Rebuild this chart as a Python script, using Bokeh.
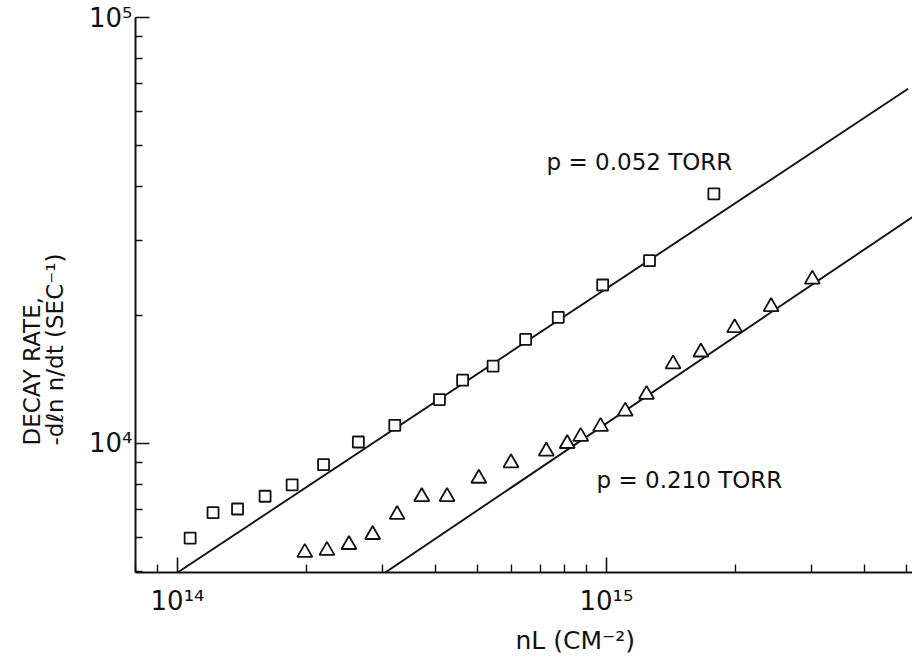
from bokeh.plotting import figure
from bokeh.models import FixedTicker, Label, Range1d, Title
from bokeh.embed import file_html
from bokeh.resources import INLINE

# ---- data ----
sq_nl = [1.07e14, 1.21e14, 1.38e14, 1.60e14, 1.85e14, 2.19e14, 2.64e14, 3.21e14,
         4.08e14, 4.62e14, 5.44e14, 6.48e14, 7.72e14, 9.80e14, 1.26e15, 1.78e15]
sq_rate = [5990, 6870, 7010, 7510, 7990, 8910, 10070, 11020,
           12670, 14070, 15180, 17540, 19760, 23540, 26850, 38540]

tri_nl = [1.98e14, 2.23e14, 2.51e14, 2.85e14, 3.25e14, 3.71e14, 4.25e14, 5.04e14,
          5.99e14, 7.24e14, 8.10e14, 8.71e14, 9.69e14, 1.106e15, 1.24e15, 1.43e15,
          1.66e15, 1.99e15, 2.42e15, 3.02e15]
tri_rate = [5540, 5600, 5780, 6100, 6800, 7490, 7490, 8270,
            8990, 9580, 9980, 10370, 10950, 11890, 13020, 15350,
            16370, 18670, 20930, 24280]

fit_052_nl = [1.0e14, 5.05e15]
fit_052_rate = [4972, 68000]
fit_210_nl = [3.05e14, 5.17e15]
fit_210_rate = [4972, 34000]

x_major = [1e14, 1e15, 1e16]
x_major_labels = ["10¹⁴", "10¹⁵", "10¹⁶"]
y_major = [1e3, 1e4, 1e5]
y_major_labels = ["10³", "10⁴", "10⁵"]

label_052 = "p = 0.052 TORR"
label_210 = "p = 0.210 TORR"
x_title = "nL (CM⁻²)"
y_title = "DECAY RATE,\n-dℓn n/dt (SEC⁻¹)"

FONT = "DejaVu Sans"
INK = "#111111"

x_start, x_end = 7.98e13, 5.17e15
y_start, y_end = 4972, 1e5

p = figure(width=912, height=666, x_axis_type="log", y_axis_type="log",
           x_range=Range1d(x_start, x_end), y_range=Range1d(y_start, y_end),
           output_backend="svg", toolbar_location=None,
           min_border_left=135, min_border_right=0, min_border_top=17,
           min_border_bottom=94)
p.outline_line_color = None
p.grid.visible = False
p.background_fill_color = "white"
p.border_fill_color = "white"

x_minor = [k * 10.0 ** e for e in (13, 14, 15) for k in range(2, 10)]
y_minor = [k * 10.0 ** e for e in (3, 4) for k in range(2, 10)]

xa = p.xaxis[0]
xa.ticker = FixedTicker(ticks=x_major, minor_ticks=x_minor)
xa.major_label_overrides = dict(zip(x_major, x_major_labels))
ya = p.yaxis[0]
ya.ticker = FixedTicker(ticks=y_major, minor_ticks=y_minor)
ya.major_label_overrides = dict(zip(y_major, y_major_labels))

for ax, maj, mnr in ((xa, 15, 8), (ya, 14, 7)):
    ax.axis_line_width = 2
    ax.axis_line_color = INK
    ax.major_tick_in = maj
    ax.major_tick_out = 0
    ax.minor_tick_in = mnr
    ax.minor_tick_out = 0
    ax.major_tick_line_width = 1.6
    ax.minor_tick_line_width = 1.4
    ax.major_tick_line_color = INK
    ax.minor_tick_line_color = INK
    ax.major_label_text_font = FONT
    ax.major_label_text_font_size = "26px"
    ax.major_label_text_color = INK
xa.major_label_standoff = 13
ya.major_label_standoff = 3

p.line(fit_052_nl, fit_052_rate, line_color=INK, line_width=1.9)
p.line(fit_210_nl, fit_210_rate, line_color=INK, line_width=1.9)
p.scatter(sq_nl, sq_rate, marker="square", size=11, fill_color="white",
          line_color=INK, line_width=1.8)
p.scatter(tri_nl, tri_rate, marker="triangle", size=15, fill_color="white",
          line_color=INK, line_width=1.8)

common = dict(text_font=FONT, text_color=INK)
p.add_layout(Label(x=7.25e14, y=45770, text=label_052, text_font_size="23px",
                   text_align="left", text_baseline="alphabetic", **common))
p.add_layout(Label(x=9.48e14, y=8185, text=label_210, text_font_size="23px",
                   text_align="left", text_baseline="alphabetic", **common))

p.add_layout(Title(text=x_title, align="left", offset=380, standoff=10,
                   text_font_size="25px", text_font_style="normal", **common),
             "below")
p.add_layout(Title(text=y_title, align="left", vertical_align="top", offset=127,
                   standoff=31, text_font_size="23px", text_font_style="normal",
                   text_line_height=0.88, **common), "left")

open("out.html", "w").write(file_html(p, INLINE))
